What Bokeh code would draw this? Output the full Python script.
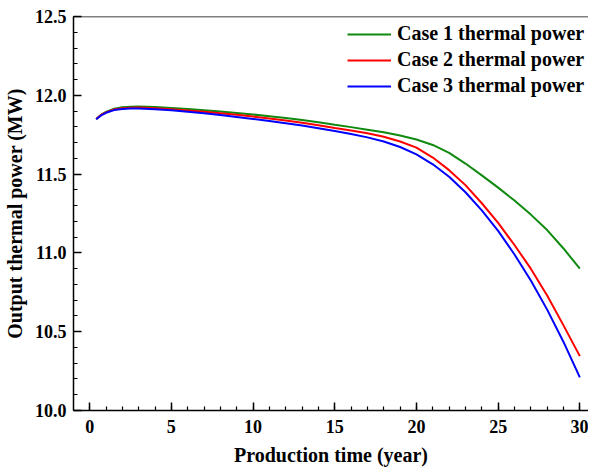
from bokeh.plotting import figure
from bokeh.models import (Range1d, FixedTicker, Legend, LegendItem, Span,
                          NumeralTickFormatter)
from bokeh.embed import file_html
from bokeh.resources import INLINE

# ---- data ----
years = [0.4, 0.7, 1, 1.5, 2, 2.5, 3, 4, 5, 6, 7, 8, 9, 10, 11, 12, 13, 14, 15,
         16, 17, 18, 19, 20, 21, 22, 23, 24, 25, 26, 27, 28, 29, 30]
case1 = [11.850, 11.877, 11.895, 11.915, 11.924, 11.928, 11.929, 11.926, 11.920,
         11.913, 11.905, 11.897, 11.888, 11.878, 11.867, 11.856, 11.843, 11.829,
         11.813, 11.798, 11.782, 11.765, 11.745, 11.720, 11.685, 11.635, 11.567,
         11.492, 11.414, 11.332, 11.243, 11.145, 11.028, 10.900]
case2 = [11.850, 11.875, 11.892, 11.910, 11.918, 11.921, 11.922, 11.918, 11.912,
         11.904, 11.895, 11.886, 11.876, 11.865, 11.853, 11.840, 11.826, 11.810,
         11.793, 11.777, 11.759, 11.737, 11.707, 11.668, 11.605, 11.525, 11.430,
         11.315, 11.190, 11.050, 10.900, 10.730, 10.540, 10.345]
case3 = [11.848, 11.872, 11.889, 11.906, 11.913, 11.916, 11.917, 11.912, 11.905,
         11.896, 11.886, 11.875, 11.863, 11.850, 11.837, 11.823, 11.808, 11.791,
         11.773, 11.755, 11.733, 11.707, 11.672, 11.625, 11.562, 11.483, 11.385,
         11.270, 11.140, 10.990, 10.825, 10.640, 10.435, 10.210]
series_names = ["Case 1 thermal power", "Case 2 thermal power", "Case 3 thermal power"]
series_colors = ["#0f8a0f", "#ff0000", "#0000ff"]
x_ticks = [0, 5, 10, 15, 20, 25, 30]
y_ticks = [10.0, 10.5, 11.0, 11.5, 12.0, 12.5]
x_minor = list(range(0, 31))
y_minor = [round(10.0 + 0.1 * i, 1) for i in range(26)]
x_start, x_end = -0.99, 30.53
y_start, y_end = 10.0, 12.5

FONT = "Liberation Serif"

p = figure(width=588, height=468, output_backend="svg", toolbar_location=None,
           x_range=Range1d(x_start, x_end), y_range=Range1d(y_start, y_end),
           min_border_left=71, min_border_right=0, min_border_top=16,
           min_border_bottom=56)
p.background_fill_color = "white"
p.border_fill_color = "white"
p.outline_line_color = None
p.grid.visible = False

renderers = []
for ys, c in zip([case1, case2, case3], series_colors):
    r = p.line(years, ys, line_color=c, line_width=2)
    renderers.append(r)

# axes styling
for ax in [p.xaxis[0], p.yaxis[0]]:
    ax.axis_line_width = 1.5
    ax.axis_line_color = "black"
    ax.major_tick_in = 8
    ax.major_tick_out = 0
    ax.minor_tick_in = 4
    ax.minor_tick_out = 0
    ax.major_tick_line_width = 1.5
    ax.minor_tick_line_width = 1.2
    ax.major_label_text_font = FONT
    ax.major_label_text_font_style = "bold"
    ax.major_label_text_font_size = "18px"
    ax.major_label_text_color = "black"
    ax.axis_label_text_font = FONT
    ax.axis_label_text_font_style = "bold"
    ax.axis_label_text_font_size = "20px"
    ax.axis_label_text_color = "black"
    ax.major_label_standoff = 7
    ax.axis_label_standoff = 6

p.xaxis[0].major_label_standoff = 9
p.xaxis[0].axis_label_standoff = 8
p.xaxis[0].ticker = FixedTicker(ticks=x_ticks, minor_ticks=x_minor)
p.yaxis[0].ticker = FixedTicker(ticks=y_ticks, minor_ticks=y_minor)
p.yaxis[0].formatter = NumeralTickFormatter(format="0.0")
p.xaxis[0].axis_label = "Production time (year)"
p.yaxis[0].axis_label = "Output thermal power (MW)"

# top frame line (right side is cut off in the reference)
p.add_layout(Span(location=y_end, dimension="width", line_color="black",
                  line_width=1.5))

legend = Legend(items=[LegendItem(label=n, renderers=[r])
                       for n, r in zip(series_names, renderers)],
                location=(274, 313), orientation="vertical")
legend.label_text_font = FONT
legend.label_text_font_style = "bold"
legend.label_text_font_size = "20px"
legend.label_text_color = "black"
legend.glyph_width = 44
legend.glyph_height = 20
legend.label_height = 20
legend.spacing = 3
legend.padding = 0
legend.margin = 0
legend.label_standoff = 6
legend.border_line_color = None
legend.background_fill_alpha = 0
p.add_layout(legend, "center")

open("out.html", "w").write(file_html(p, INLINE))
